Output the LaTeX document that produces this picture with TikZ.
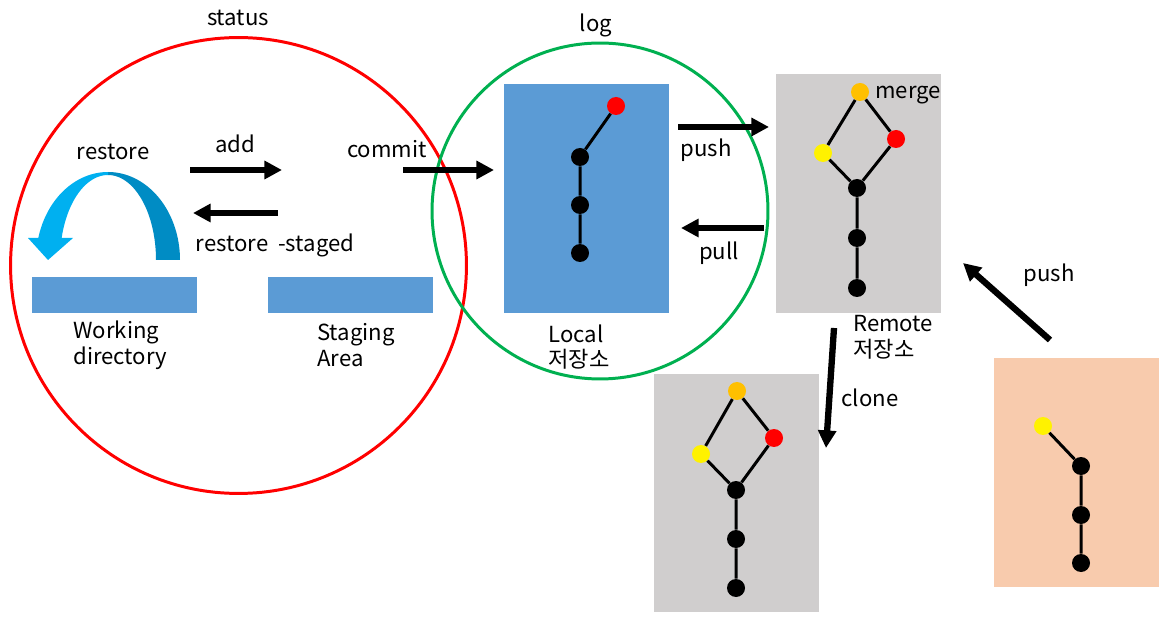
\documentclass[tikz,border=0pt]{standalone}
\usepackage{fontspec}
\setmainfont{Noto Sans CJK KR}
\usetikzlibrary{arrows.meta, positioning}

\definecolor{localblue}{HTML}{5B9BD5}
\definecolor{remotegray}{HTML}{D0CECE}
\definecolor{forkpeach}{HTML}{F8CBAD}
\definecolor{mergeorange}{HTML}{FFC000}
\definecolor{logreen}{HTML}{00B050}
\definecolor{arclight}{HTML}{00B0F0}
\definecolor{arcdark}{HTML}{008CC4}

\begin{document}
\begin{tikzpicture}[x=0.02cm, y=-0.02cm,
    every node/.style={font=\fontsize{12.6}{14.7}\selectfont},
    commit/.style={circle, fill=black, minimum size=0.36cm, inner sep=0pt},
    edge/.style={line width=1.7pt},
    move/.style={line width=3.6pt, -{Triangle[length=10pt, width=10pt]}},
    zone/.style={circle, draw, line width=1.7pt, inner sep=0pt}]
    \useasboundingbox (0,0) rectangle (1166,621);

    % boxes
    \fill[localblue] (32,277) rectangle (197,313);
    \fill[localblue] (268,277) rectangle (433,313);
    \fill[localblue] (504,84) rectangle (669,313);
    \fill[remotegray] (776,74) rectangle (941,313);
    \fill[remotegray] (654,374) rectangle (819,612);
    \fill[forkpeach] (994,358) rectangle (1159,587);

    % restore arrow
    \fill[arcdark] plot[domain=0:90, samples=40] ({108+72*cos(\x)}, {260-88*sin(\x)})
        -- plot[domain=90:0, samples=40] ({108+48*cos(\x)}, {260-85*sin(\x)}) -- cycle;
    \fill[arclight] plot[domain=90:165.5, samples=40] ({108+72*cos(\x)}, {260-88*sin(\x)})
        -- (28,238) -- (48,260) -- (73,238)
        -- plot[domain=165:90, samples=40] ({108+48*cos(\x)}, {260-85*sin(\x)}) -- cycle;

    % status / log
    \node[zone, draw=red, minimum size=9.12cm] (stat) at (238.5,265.5) {};
    \node[zone, draw=logreen, minimum size=6.72cm] (logc) at (600,211) {};
    \node (status) at (238,18) {status};
    \node (log) at (596,25) {log};

    % local
    \node[commit, fill=red] (l4) at (616,106) {};
    \node[commit] (l3) at (580,157) {};
    \node[commit] (l2) at (580,205) {};
    \node[commit] (l1) at (580,253) {};
    \draw[edge] (l1) -- (l2) -- (l3) -- (l4);

    % remote
    \node[commit, fill=mergeorange] (r5) at (860,92) {};
    \node[commit, fill=red] (r4) at (896,139) {};
    \node[commit, fill=yellow] (r6) at (823,153) {};
    \node[commit] (r3) at (857,188) {};
    \node[commit] (r2) at (857,238) {};
    \node[commit] (r1) at (857,288) {};
    \draw[edge] (r1) -- (r2) -- (r3) -- (r4) -- (r5) -- (r6) -- (r3);
    \node[anchor=base west, inner sep=0pt] (merge) at (875,99) {merge};

    % clone
    \node[commit, fill=mergeorange] (c5) at (737,391) {};
    \node[commit, fill=red] (c4) at (774,438) {};
    \node[commit, fill=yellow] (c6) at (701,454) {};
    \node[commit] (c3) at (736,490) {};
    \node[commit] (c2) at (736,539) {};
    \node[commit] (c1) at (736,588) {};
    \draw[edge] (c1) -- (c2) -- (c3) -- (c4) -- (c5) -- (c6) -- (c3);

    % fork
    \node[commit, fill=yellow] (f4) at (1043,426) {};
    \node[commit] (f3) at (1081,466) {};
    \node[commit] (f2) at (1081,515) {};
    \node[commit] (f1) at (1081,563) {};
    \draw[edge] (f1) -- (f2) -- (f3) -- (f4);

    % arrow ends
    \coordinate (add-s) at (190,170);
    \coordinate (add-e) at (282,170);
    \coordinate (rst-s) at (278,213);
    \coordinate (rst-e) at (193,213);
    \coordinate (cmt-s) at (403,170);
    \coordinate (cmt-e) at (494,170);
    \coordinate (psh-s) at (678,127);
    \coordinate (psh-e) at (769,127);
    \coordinate (pll-s) at (764,228);
    \coordinate (pll-e) at (681,228);
    \coordinate (cln-s) at (834,328);
    \coordinate (cln-e) at (826,448);
    \coordinate (fpsh-s) at (1050,340);
    \coordinate (fpsh-e) at (963,263);
    \draw[move] (add-s) -- (add-e);
    \draw[move] (rst-s) -- (rst-e);
    \draw[move] (cmt-s) -- (cmt-e);
    \draw[move] (psh-s) -- (psh-e);
    \draw[move] (pll-s) -- (pll-e);
    \draw[move] (cln-s) -- (cln-e);
    \draw[move] (fpsh-s) -- (fpsh-e);

    % labels
    \node (restore) at (113,152) {restore};
    \node (add) at (235,144) {add};
    \node (unstage) at (275,245) {restore\ \ -staged};
    \node (commitlbl) at (387,149) {commit};
    \node (push) at (706,150) {push};
    \node (pull) at (719,253) {pull};
    \node (clone) at (870,398) {clone};
    \node (forkpush) at (1049,275) {push};
    \node[anchor=west, align=left, inner sep=0pt] (wd) at (73,345) {Working\\directory};
    \node[anchor=west, align=left, inner sep=0pt] (stage) at (317,345) {Staging\\Area};
    \node[anchor=west, align=left, inner sep=0pt] (local) at (548,347) {Local\\저장소};
    \node[anchor=west, align=left, inner sep=0pt] (remote) at (853,337) {Remote\\저장소};
\end{tikzpicture}
\end{document}
